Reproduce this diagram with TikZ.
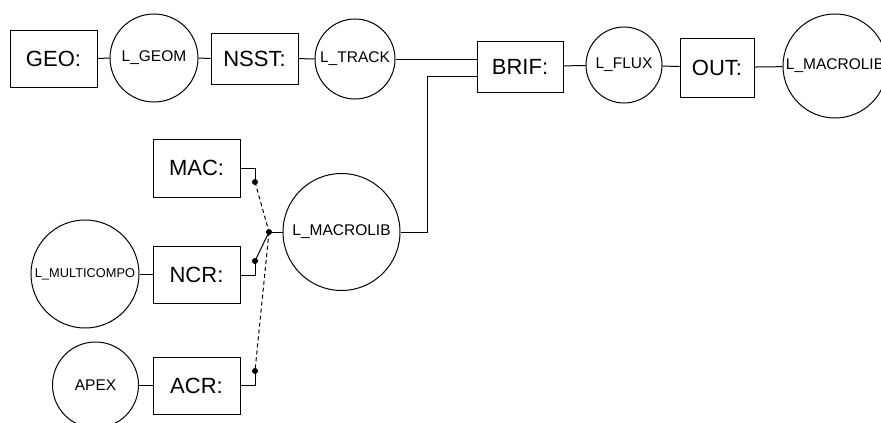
\documentclass[tikz,border=0pt]{standalone}
\usepackage{fontspec}
\setmainfont{Liberation Sans}
\usepackage{tikz}
\usetikzlibrary{calc}

\begin{document}
\begin{tikzpicture}[x=1pt,y=-1pt,line width=1pt,
  box/.style={draw,rectangle,inner sep=0pt,minimum width=87pt,minimum height=57pt,font=\fontsize{22}{26}\selectfont},
  lib/.style={draw,circle,inner sep=0pt,font=\fontsize{15.5}{18}\selectfont},
  pin/.style={fill,circle,inner sep=0pt,minimum size=6pt}]
\useasboundingbox (0,0) rectangle (881,423);
% top chain
\node[box] (geo) at (53.5,58.5) {GEO:};
\node[lib,minimum size=88pt] (lgeom) at (154,58) {L\_GEOM};
\node[box,minimum height=51pt] (nsst) at (254.5,58.5) {NSST:};
\node[lib,minimum size=80pt] (ltrack) at (355,59) {L\_TRACK};
\node[box,minimum width=86pt,minimum height=51pt] (brif) at (520,66.5) {BRIF:};
\node[lib,minimum size=76pt] (lflux) at (624,65) {L\_FLUX};
\node[box,minimum width=74pt,minimum height=59pt] (out) at (717,67.5) {OUT:};
\node[lib,minimum size=104pt] (lmacout) at (835,66) {L\_MACROLIB};
\draw (geo) -- (lgeom);
\draw (lgeom) -- (nsst);
\draw (nsst) -- (ltrack);
\draw (ltrack.east) -- (ltrack.east -| brif.west);
\draw (brif) -- (lflux);
\draw (lflux) -- (out);
\draw (out) -- (lmacout);
% cross sections
\node[box,minimum height=58pt] (mac) at (196.5,168) {MAC:};
\node[box] (ncr) at (196.5,275) {NCR:};
\node[box] (acr) at (196.5,385.5) {ACR:};
\node[lib,minimum size=108pt,font=\fontsize{12.8}{15}\selectfont] (lmulti) at (85,274) {L\_MULTICOMPO};
\node[lib,minimum size=86pt] (apex) at (95.5,385) {APEX};
\node[lib,minimum size=117pt] (macrolib) at (341.5,232) {L\_MACROLIB};
\draw (lmulti.east) -- (lmulti.east -| ncr.west);
\draw (apex.east) -- (apex.east -| acr.west);
% switch
\node[pin] (macpin) at (255,182) {};
\node[pin] (ncrpin) at (255,261) {};
\node[pin] (acrpin) at (255,371) {};
\node[pin] (hub) at (269,232) {};
\draw (mac.east) -| (macpin.center);
\draw (ncr.east) -| (ncrpin.center);
\draw (acr.east) -| (acrpin.center);
\draw[dash pattern=on 4pt off 3pt] (macpin.center) -- (hub.center);
\draw[dash pattern=on 4pt off 3pt] (hub.center) -- (acrpin.center);
\draw (ncrpin.center) -- (hub.center);
\draw (hub.center) -- (macrolib.west);
% to BRIF
\coordinate (bend) at (427,76);
\draw (macrolib.east) -- (macrolib.east -| bend) -- (bend) -- (bend -| brif.west);
\end{tikzpicture}
\end{document}
